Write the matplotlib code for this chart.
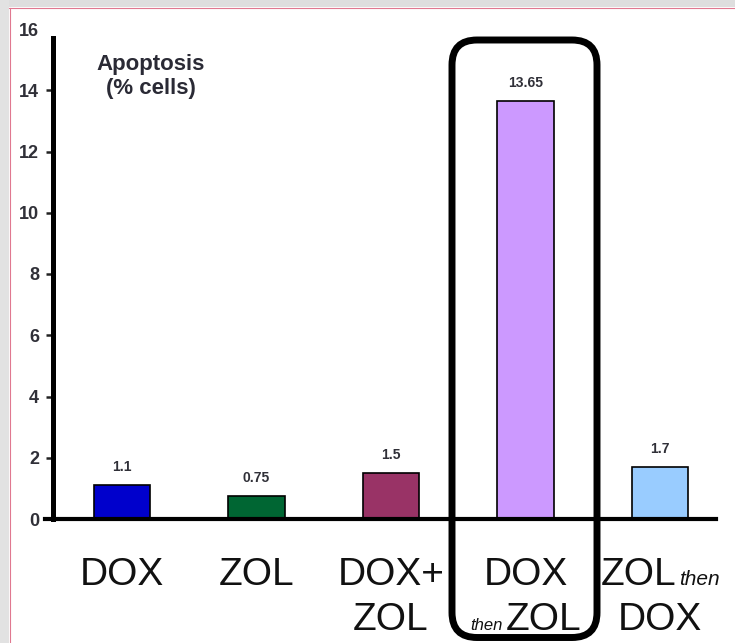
import matplotlib
matplotlib.use("Agg")
import matplotlib.pyplot as plt
from matplotlib.patches import Rectangle, FancyBboxPatch
from matplotlib.offsetbox import TextArea, HPacker, AnnotationBbox
import numpy as np

plt.rcParams["font.family"] = ["Liberation Sans", "DejaVu Sans"]

# Data
categories = ["DOX", "ZOL", "DOX+ZOL", "DOX then ZOL", "ZOL then DOX"]
values = [1.1, 0.75, 1.5, 13.65, 1.7]
colors = ["#0000CC", "#006633", "#993366", "#CC99FF", "#99CCFF"]
yticks = [0, 2, 4, 6, 8, 10, 12, 14, 16]
axis_title = "Apoptosis\n(% cells)"

# Category labels split into rows; each row is a list of (text, style) pieces
label_rows = [
    [[("DOX", "main")]],
    [[("ZOL", "main")]],
    [[("DOX+", "main")], [("ZOL", "main")]],
    [[("DOX", "main")], [("then", "small"), ("ZOL", "main")]],
    [[("ZOL", "main"), ("then", "mid")], [("DOX", "main")]],
]
highlight = "DOX then ZOL"

W, H, DPI = 735, 643, 100
fig = plt.figure(figsize=(W / DPI, H / DPI), dpi=DPI)
fig.patch.set_facecolor("white")

# Frame band along the top and left edges
fig.add_artist(Rectangle((0, 1 - 7 / H), 1, 7 / H, transform=fig.transFigure,
                         facecolor="#dedede", edgecolor="none", zorder=0))
fig.add_artist(Rectangle((0, 0), 9 / W, 1, transform=fig.transFigure,
                         facecolor="#e2e2e2", edgecolor="none", zorder=0))
fig.add_artist(plt.Line2D([9 / W, 1], [1 - 7.5 / H, 1 - 7.5 / H], transform=fig.transFigure,
                          color="#e07890", lw=0.8, zorder=1))
fig.add_artist(plt.Line2D([9.5 / W, 9.5 / W], [0, 1 - 7.5 / H], transform=fig.transFigure,
                          color="#e07890", lw=0.8, zorder=1))

x = np.arange(len(categories))
x_left, x_right = -0.513, 4.416
ax = fig.add_axes([53 / W, (H - 519) / H, (716 - 53) / W, (519 - 29) / H])
ax.set_facecolor("none")

ax.bar(x, values, width=0.42, color=colors, edgecolor="black", linewidth=1.2, zorder=2)

ax.set_xlim(x_left, x_right)
ax.set_ylim(0, 16)

for s in ("top", "right"):
    ax.spines[s].set_visible(False)
ax.spines["left"].set_linewidth(3.6)
ax.spines["left"].set_bounds(0, 15.7)
ax.spines["bottom"].set_linewidth(3.0)
ax.spines["bottom"].set_bounds(x_left - 0.06, x_right)
ax.spines["left"].set_zorder(3)
ax.spines["bottom"].set_zorder(3)

ax.set_yticks(yticks)
ax.set_yticklabels([str(t) for t in yticks], fontsize=13, fontweight="bold", color="#303038")
ax.tick_params(axis="y", length=5, width=1.8, pad=5, color="#222222")
ax.yaxis.get_major_ticks()[-1].tick1line.set_visible(False)
ax.set_xticks([])

# Value labels above the bars
for xi, v in zip(x, values):
    ax.annotate(f"{v:g}", (xi, v), xytext=(0, 13), textcoords="offset points",
                ha="center", va="center", fontsize=10, fontweight="bold", color="#303038")

ax.text(0.216, 14.45, axis_title, ha="center", va="center", multialignment="center",
        fontsize=16, fontweight="bold", color="#2a2a35", linespacing=1.2)

# Category labels below the axis
styles = {
    "main": dict(fontsize=28, color="#111111"),
    "mid": dict(fontsize=15, color="#111111", style="italic"),
    "small": dict(fontsize=12, color="#111111", style="italic"),
}
row_offsets = [-40, -73]
for xi, rows in zip(x, label_rows):
    for r, row in enumerate(rows):
        parts = [TextArea(t, textprops=styles[s]) for t, s in row]
        box = HPacker(children=parts, align="baseline", pad=0, sep=2)
        ab = AnnotationBbox(box, (xi, 0), xycoords=("data", "axes fraction"),
                            xybox=(0, row_offsets[r]), boxcoords="offset points",
                            box_alignment=(0.5, 0.5), frameon=False, pad=0,
                            annotation_clip=False)
        ax.add_artist(ab)

# Rounded frame around the highlighted group
frame = FancyBboxPatch((4.52, 0.055), 1.45, 5.975,
                       boxstyle="round,pad=0,rounding_size=0.25",
                       transform=fig.dpi_scale_trans, facecolor="none",
                       edgecolor="black", linewidth=5, zorder=5)
fig.add_artist(frame)

fig.savefig("out.png", dpi=DPI)
